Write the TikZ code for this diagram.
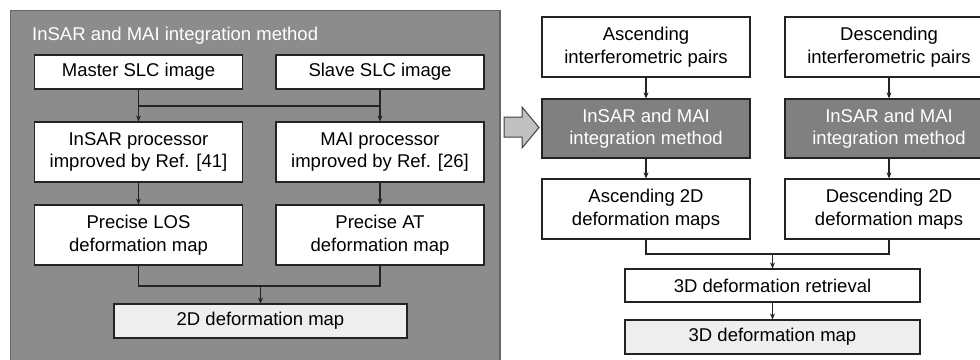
\documentclass[tikz,border=0pt]{standalone}
\usepackage{fontspec}
\setmainfont{Liberation Sans}
\usepackage{tikz}
\usetikzlibrary{calc,positioning,arrows.meta}
\usepackage{xcolor}
\definecolor{panelgray}{RGB}{140,140,140}
\definecolor{boxgray}{RGB}{128,128,128}
\definecolor{lightbox}{RGB}{238,238,238}
\definecolor{arrowgray}{RGB}{192,192,192}
\definecolor{linecol}{RGB}{35,35,35}

\begin{document}
\begin{tikzpicture}[x=1pt,y=-1pt,
    font=\fontsize{18.5}{22.5}\selectfont,
    box/.style={draw=linecol, line width=1.2pt, fill=white, inner sep=0pt, align=center, minimum width=208pt},
    arr/.style={draw=linecol, line width=1.2pt, -{Stealth[length=6pt,width=5pt]}},
    wire/.style={draw=linecol, line width=1.2pt}]
  \useasboundingbox (0,0) rectangle (980,359);

  % Left panel
  \draw[fill=panelgray, draw=black!60, line width=1.5pt] (10.5,10.5) rectangle (500,366);
  \node[anchor=base west, text=white, inner sep=0pt] (paneltitle) at (32,40) {InSAR and MAI integration method};

  \node[box, minimum height=34pt] (mst) at (138.5,72) {Master SLC image};
  \node[box, minimum height=34pt] (slv) at (380,72) {Slave SLC image};
  \node[box, minimum height=60pt] (insar) at (138.5,152) {InSAR processor\\ improved by Ref. [41]};
  \node[box, minimum height=60pt] (mai) at (380,152) {MAI processor\\ improved by Ref. [26]};
  \node[box, minimum height=60pt] (los) at (138.5,235) {Precise LOS\\ deformation map};
  \node[box, minimum height=60pt] (at) at (380,235) {Precise AT\\ deformation map};
  \node[box, fill=lightbox, minimum width=293pt, minimum height=34pt] (map2d) at (260.5,321) {2D deformation map};

  \coordinate (jtop) at (0,106);
  \coordinate (jbot) at (map2d.north |- 0,286);

  \draw[arr] (mst.south) -- (insar.north);
  \draw[arr] (slv.south) -- (mai.north);
  \draw[wire] (mst.south |- jtop) -- (slv.south |- jtop);
  \draw[arr] (insar.south) -- (los.north);
  \draw[arr] (mai.south) -- (at.north);
  \draw[wire] (los.south) |- (jbot) -| (at.south);
  \draw[arr] (jbot) -- (map2d.north);

  % Big arrow
  \draw[fill=arrowgray, draw=black!75, line width=1pt] (504,117) -- (522,117) -- (522,107) -- (539,127.5)
    -- (522,148) -- (522,137) -- (504,137) -- cycle;

  % Right flow
  \node[box, minimum height=60pt] (asc) at (646,47) {Ascending\\ interferometric pairs};
  \node[box, minimum height=60pt] (dsc) at (889,47) {Descending\\ interferometric pairs};
  \node[box, fill=boxgray, text=white, minimum height=59pt] (ascint) at (646,128.5) {InSAR and MAI\\ integration method};
  \node[box, fill=boxgray, text=white, minimum height=59pt] (dscint) at (889,128.5) {InSAR and MAI\\ integration method};
  \node[box, minimum height=60pt] (asc2d) at (646,209) {Ascending 2D\\ deformation maps};
  \node[box, minimum height=60pt] (dsc2d) at (889,209) {Descending 2D\\ deformation maps};
  \node[box, minimum width=295pt, minimum height=33pt] (retr) at (772.5,285.5) {3D deformation retrieval};
  \node[box, fill=lightbox, minimum width=295pt, minimum height=34pt] (map3d) at (772.5,337) {3D deformation map};

  \coordinate (jright) at (retr.north |- 0,254);

  \draw[arr] (asc.south) -- (ascint.north);
  \draw[arr] (dsc.south) -- (dscint.north);
  \draw[arr] (ascint.south) -- (asc2d.north);
  \draw[arr] (dscint.south) -- (dsc2d.north);
  \draw[wire] (asc2d.south) |- (jright) -| (dsc2d.south);
  \draw[arr] (jright) -- (retr.north);
  \draw[arr] (retr.south) -- (map3d.north);
\end{tikzpicture}
\end{document}
